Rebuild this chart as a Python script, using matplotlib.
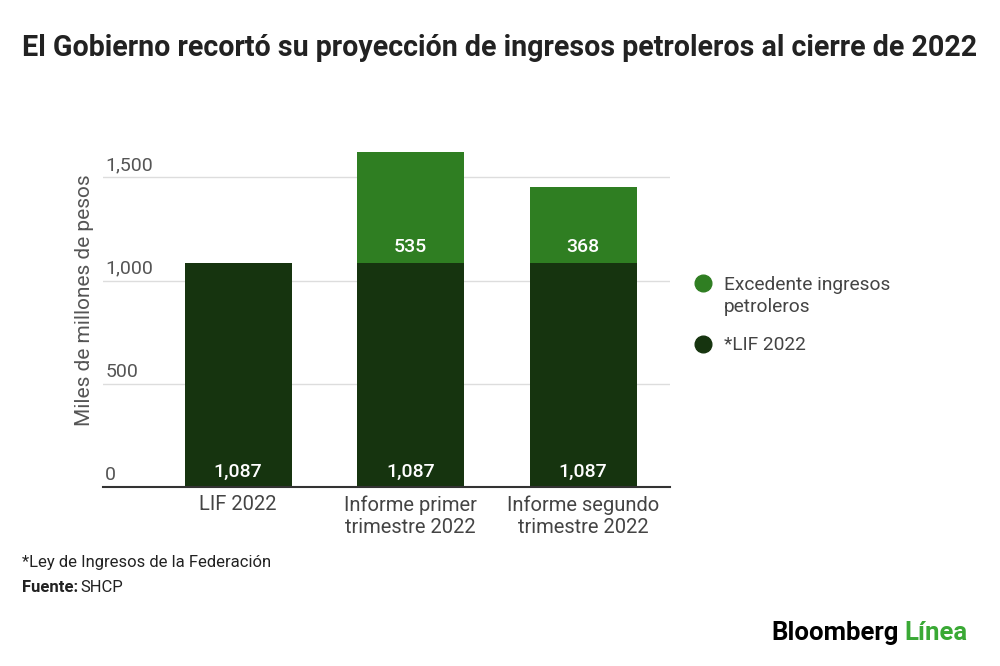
import matplotlib.pyplot as plt
from matplotlib.lines import Line2D

plt.rcParams["font.family"] = ["Roboto", "DejaVu Sans"]

categories = ["LIF 2022", "Informe primer\ntrimestre 2022", "Informe segundo\ntrimestre 2022"]
lif = [1087, 1087, 1087]
excedente = [0, 535, 368]
yticks = [0, 500, 1000, 1500]

DARK = "#16340f"
LIGHT = "#2f7e22"
GREY = "#555555"

fig = plt.figure(figsize=(10, 6.66), dpi=100)
ax = fig.add_axes([0.103, 0.2688, 0.567, 0.527])

x = list(range(len(categories)))
ax.bar(x, lif, width=0.62, color=DARK, zorder=3)
ax.bar(x, excedente, width=0.62, bottom=lif, color=LIGHT, zorder=3)

# value labels at the base of each segment
for xi, base, extra in zip(x, lif, excedente):
    ax.text(xi, 30, f"{base:,}", color="white", ha="center", va="bottom",
            fontsize=14, fontweight="medium", zorder=4)
    if extra:
        ax.text(xi, base + 30, f"{extra:,}", color="white", ha="center",
                va="bottom", fontsize=14, fontweight="medium", zorder=4)

ax.set_xlim(-0.783, 2.504)
ax.set_ylim(0, 1700)
ax.set_yticks(yticks)
ax.set_yticklabels([])
ax.tick_params(axis="y", length=0)
ax.grid(axis="y", color="#dddddd", linewidth=1, zorder=0)
for t in yticks:
    ax.text(0.004, t + 15, f"{t:,}", transform=ax.get_yaxis_transform(),
            ha="left", va="bottom", fontsize=14, color=GREY)

ax.set_xticks(x)
ax.set_xticklabels(categories, fontsize=14.5, color="#444444", linespacing=1.2)
ax.tick_params(axis="x", length=0, pad=6)

for side in ["top", "right", "left"]:
    ax.spines[side].set_visible(False)
ax.spines["bottom"].set_color("#333333")
ax.spines["bottom"].set_linewidth(1.5)
ax.spines["bottom"].set_zorder(5)

fig.text(0.085, 1 - 300 / 666, "Miles de millones de pesos", rotation=90,
         ha="center", va="center", fontsize=15, color=GREY)

fig.text(0.022, 0.928, "El Gobierno recortó su proyección de ingresos petroleros al cierre de 2022",
         fontsize=20.6, fontweight="bold", color="#222222", va="center")

# legend
for yy, col in [(283, LIGHT), (344, DARK)]:
    fig.add_artist(Line2D([0.703], [1 - yy / 666], marker="o", markersize=12,
                          color=col, linestyle="none", transform=fig.transFigure))
fig.text(0.724, 1 - 296 / 666, "Excedente ingresos\npetroleros", fontsize=13.8,
         color="#444444", va="center", ha="left", linespacing=1.3)
fig.text(0.724, 1 - 345 / 666, "*LIF 2022", fontsize=13.8, color="#444444",
         va="center", ha="left")

# footer
fig.text(0.022, 1 - 562 / 666, "*Ley de Ingresos de la Federación", fontsize=12,
         color="#222222", va="center")
fig.text(0.022, 1 - 587 / 666, "Fuente:", fontsize=12, fontweight="bold",
         color="#222222", va="center")
fig.text(0.080, 1 - 587 / 666, "SHCP", fontsize=12, color="#222222", va="center")

fig.text(0.899, 1 - 633 / 666, "Bloomberg", fontsize=18.5, fontweight="bold",
         color="black", va="center", ha="right")
fig.text(0.904, 1 - 633 / 666, "Línea", fontsize=18.5, fontweight="bold",
         color="#3aa935", va="center", ha="left")

fig.savefig("out.png", dpi=100, facecolor="white")
